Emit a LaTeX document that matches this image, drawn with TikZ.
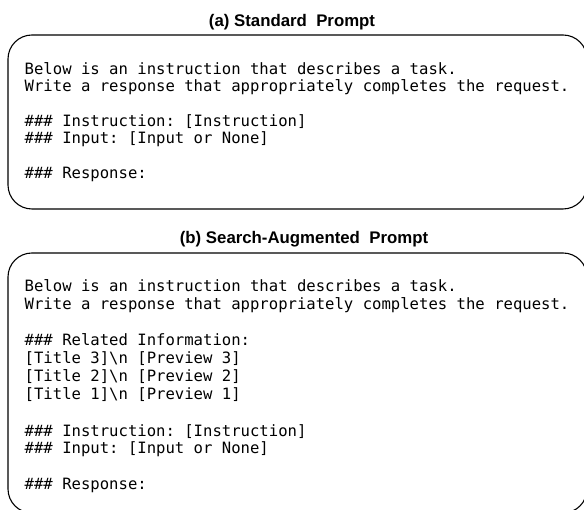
\documentclass[tikz,border=0pt]{standalone}
\usepackage{fontspec}
\setmainfont{Liberation Sans}
\setmonofont{DejaVu Sans Mono}

\begin{document}
\begin{tikzpicture}[x=1pt, y=1pt,
	promptbox/.style={line width=1.1pt, rounded corners=24pt},
	prompttitle/.style={anchor=base, inner sep=0pt, font=\fontsize{16.8}{20}\selectfont\bfseries},
	promptline/.style={anchor=base west, inner sep=0pt, font=\fontsize{15.6}{17}\selectfont\ttfamily}]
				\useasboundingbox (0,0) rectangle (584,510);
				\clip (0,0) rectangle (584,510);

				% Standard prompt
				\node[prompttitle] (stdtitle) at (292,483.3) {(a) Standard\ \ Prompt};
				\draw[promptbox] (8,475) rectangle (587,301);
				\node[promptline] (std1) at (24.5,435.5) {Below is an instruction that describes a task.};
				\node[promptline] (std2) at (24.5,418.8) {Write a response that appropriately completes the request.};
				\node[promptline] (std3) at (24.5,383.3) {\#\#\# Instruction: [Instruction]};
				\node[promptline] (std4) at (24.5,366.7) {\#\#\# Input: [Input or None]};
				\node[promptline] (std5) at (24.5,331) {\#\#\# Response:};

				% Search-augmented prompt
				\node[prompttitle] (augtitle) at (304,266.7) {(b) Search-Augmented\ \ Prompt};
				\draw[promptbox] (8,257) rectangle (587,-3);
				\node[promptline] (aug1) at (24.5,218.3) {Below is an instruction that describes a task.};
				\node[promptline] (aug2) at (24.5,200.7) {Write a response that appropriately completes the request.};
				\node[promptline] (aug3) at (24.5,164.3) {\#\#\# Related Information:};
				\node[promptline] (aug4) at (24.5,146) {[Title 3]\textbackslash n [Preview 3]};
				\node[promptline] (aug5) at (24.5,128) {[Title 2]\textbackslash n [Preview 2]};
				\node[promptline] (aug6) at (24.5,110) {[Title 1]\textbackslash n [Preview 1]};
				\node[promptline] (aug7) at (24.5,73.3) {\#\#\# Instruction: [Instruction]};
				\node[promptline] (aug8) at (24.5,56) {\#\#\# Input: [Input or None]};
				\node[promptline] (aug9) at (24.5,20) {\#\#\# Response:};
			\end{tikzpicture}
\end{document}
